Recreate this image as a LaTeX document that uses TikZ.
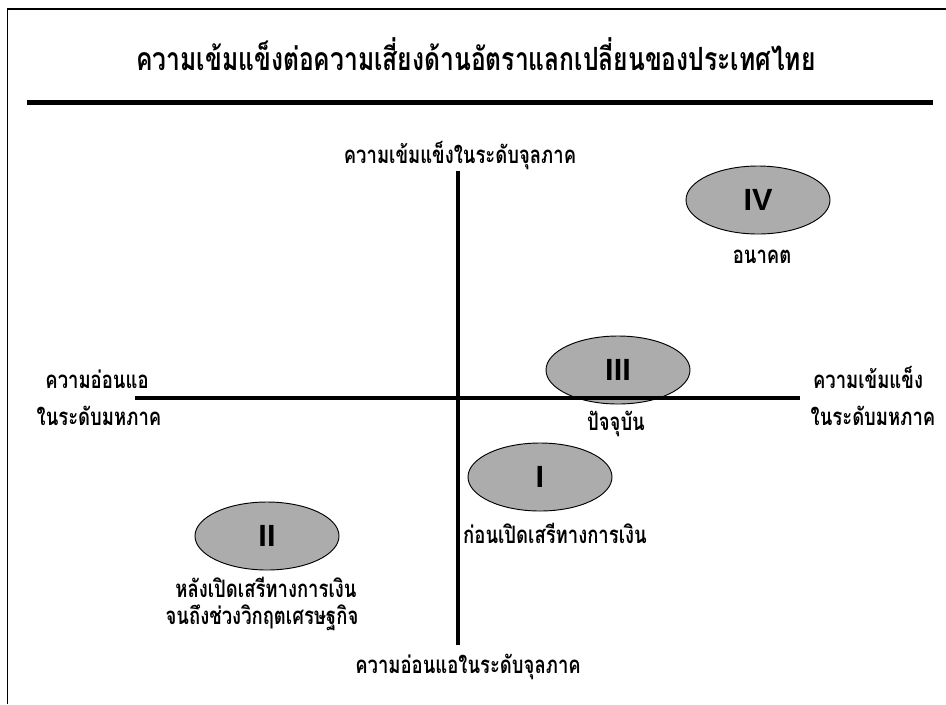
\documentclass[tikz,border=0pt]{standalone}
\usepackage{fontspec}
\usetikzlibrary{shapes.geometric}
\newfontfamily\thai[Script=Thai]{Loma}
\newfontfamily\latinsans{Liberation Sans}
\newcommand{\thaisq}[1]{\scalebox{0.77}[1]{#1}}
\newcommand{\thaitq}[1]{\scalebox{0.77}[1]{#1}}
\begin{document}
\begin{tikzpicture}[x=0.75pt,y=-0.75pt,
  titletext/.style={font=\thai\bfseries\fontsize{24}{28}\selectfont, inner sep=0pt, anchor=base},
  lbl/.style={font=\thai\bfseries\fontsize{18}{22}\selectfont, inner sep=0pt, anchor=base},
  quad/.style={ellipse, draw=black, line width=0.7pt, fill=gray!65, minimum width=108pt, minimum height=51pt, inner sep=0pt, font=\latinsans\bfseries\fontsize{23}{25}\selectfont},
  axis/.style={line width=2.7pt}
]
\useasboundingbox (0,0) rectangle (946,704);
\fill[white] (0,0) rectangle (946,704);
% frame
\coordinate (fbl) at (7.5,704);
\coordinate (ftl) at (7.5,9);
\coordinate (ftr) at (946,9);
\draw[line width=1.3pt] (fbl) -- (ftl) -- (ftr);
% title
\node[titletext] (title) at (476,70) {\thaitq{ความเข้มแข็งต่อความเสี่ยงด้านอัตราแลกเปลี่ยนของประเทศไทย}};
\coordinate (rl) at (27,102.5);
\coordinate (rr) at (933,102.5);
\draw[line width=3.9pt] (rl) -- (rr);
% axes
\coordinate (vt) at (458,171);
\coordinate (vb) at (458,645);
\coordinate (hl) at (135,398);
\coordinate (hr) at (800,398);
% ellipses
\node[quad] (e4) at (758,200) {IV};
\node[quad] (e3) at (618,370) {III};
\node[quad] (e1) at (540,477) {I};
\node[quad] (e2) at (267,536) {II};
\draw[axis] (vt) -- (vb);
\draw[axis] (hl) -- (hr);
% labels
\node[lbl] (top) at (460,163) {\thaisq{ความเข้มแข็งในระดับจุลภาค}};
\node[lbl] (bot) at (468,673) {\thaisq{ความอ่อนแอในระดับจุลภาค}};
\node[lbl] (left1) at (97,388) {\thaisq{ความอ่อนแอ}};
\node[lbl] (left2) at (99,425) {\thaisq{ในระดับมหภาค}};
\node[lbl] (right1) at (868,388) {\thaisq{ความเข้มแข็ง}};
\node[lbl] (right2) at (873,425) {\thaisq{ในระดับมหภาค}};
\node[lbl] (l4) at (762,263) {\thaisq{อนาคต}};
\node[lbl] (l3) at (616,430) {\thaisq{ปัจจุบัน}};
\node[lbl] (l1) at (555,543) {\thaisq{ก่อนเปิดเสรีทางการเงิน}};
\node[lbl] (l2a) at (266,597) {\thaisq{หลังเปิดเสรีทางการเงิน}};
\node[lbl] (l2b) at (262,624) {\thaisq{จนถึงช่วงวิกฤตเศรษฐกิจ}};
\end{tikzpicture}
\end{document}
